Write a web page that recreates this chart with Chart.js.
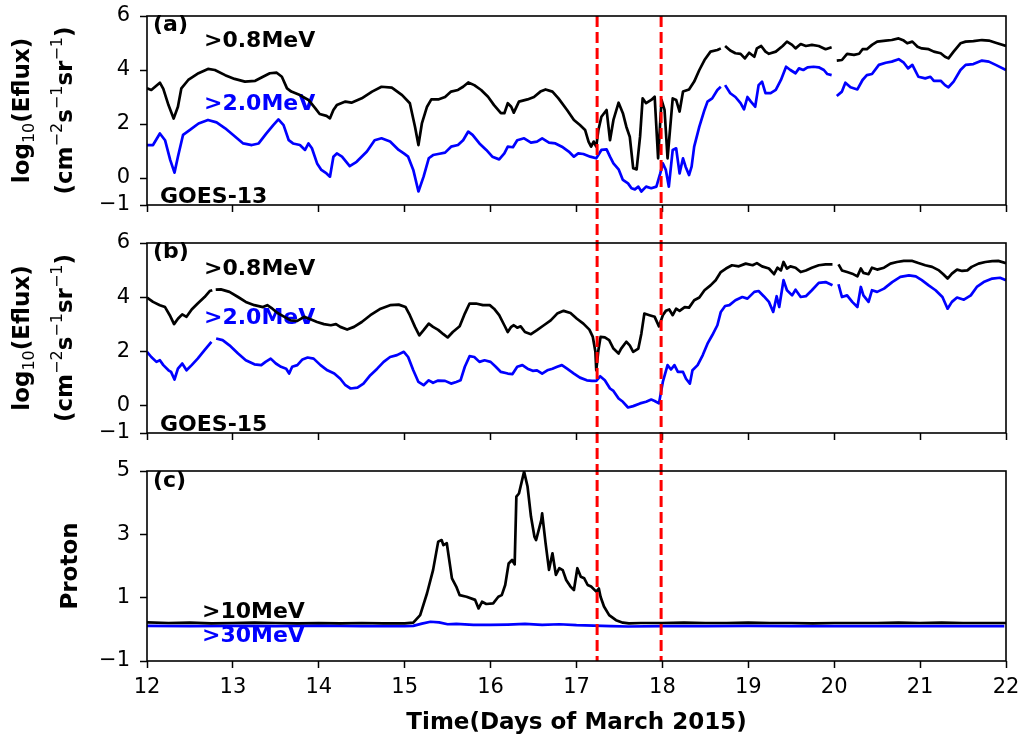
<!DOCTYPE html>
<html>
<head>
<meta charset="utf-8">
<title>GOES electron and proton flux, March 2015</title>
<script src="https://cdn.jsdelivr.net/npm/chart.js@4.4.1/dist/chart.umd.min.js"></script>
<style>
  body { margin: 0; background: #fff; }
  #wrap { position: relative; width: 1032px; height: 740px; background: #fff; }
  #wrap canvas { position: absolute; left: 0; }
</style>
</head>
<body>
<div id="wrap">
  <canvas id="panelA" width="1032" height="230" style="top:0px"></canvas>
  <canvas id="panelB" width="1032" height="225" style="top:230px"></canvas>
  <canvas id="panelC" width="1032" height="285" style="top:455px"></canvas>
</div>
<script>
// ---- GOES-13 electron flux, log10 (panel a) ----
const g13Time08 = [12.0, 12.05, 12.15, 12.19, 12.25, 12.31, 12.36, 12.4, 12.48, 12.6, 12.71, 12.79, 12.91, 13.02, 13.14, 13.26, 13.35, 13.43, 13.51, 13.57, 13.63, 13.68, 13.78, 13.88, 13.96, 14.01, 14.09, 14.13, 14.17, 14.21, 14.31, 14.38, 14.5, 14.62, 14.73, 14.85, 14.97, 15.06, 15.12, 15.16, 15.2, 15.26, 15.31, 15.39, 15.47, 15.54, 15.62, 15.68, 15.74, 15.81, 15.89, 15.97, 16.04, 16.12, 16.16, 16.2, 16.24, 16.27, 16.33, 16.43, 16.505, 16.58, 16.64, 16.72, 16.79, 16.89, 16.97, 17.04, 17.1, 17.14, 17.17, 17.2, 17.23, 17.255, 17.29, 17.35, 17.39, 17.43, 17.49, 17.54, 17.58, 17.62, 17.66, 17.7, 17.74, 17.77, 17.81, 17.87, 17.91, 17.95, 17.99, 18.025, 18.06, 18.12, 18.16, 18.2, 18.24, 18.31, 18.37, 18.43, 18.49, 18.56, 18.64, 18.68, 18.705, 18.73, 18.79, 18.85, 18.91, 18.96, 19.01, 19.07, 19.1, 19.15, 19.2, 19.24, 19.32, 19.4, 19.45, 19.51, 19.55, 19.61, 19.67, 19.74, 19.82, 19.9, 19.97, 20.0, 20.03, 20.09, 20.15, 20.23, 20.29, 20.33, 20.38, 20.44, 20.5, 20.6, 20.67, 20.75, 20.81, 20.85, 20.91, 20.97, 21.02, 21.1, 21.16, 21.24, 21.29, 21.33, 21.39, 21.47, 21.53, 21.62, 21.72, 21.8, 21.88, 22.0];
const g13Flux08 = [3.32, 3.26, 3.53, 3.3, 2.7, 2.2, 2.64, 3.32, 3.63, 3.88, 4.04, 4.0, 3.81, 3.67, 3.57, 3.6, 3.75, 3.88, 3.9, 3.75, 3.32, 3.2, 3.07, 2.89, 2.58, 2.37, 2.3, 2.21, 2.52, 2.7, 2.83, 2.79, 2.95, 3.2, 3.38, 3.35, 3.07, 2.77, 1.9, 1.22, 2.02, 2.64, 2.91, 2.91, 3.0, 3.2, 3.26, 3.38, 3.54, 3.44, 3.26, 3.01, 2.7, 2.4, 2.4, 2.77, 2.64, 2.42, 2.83, 2.91, 3.0, 3.2, 3.28, 3.2, 2.95, 2.52, 2.15, 1.96, 1.78, 1.35, 1.16, 1.35, 1.16, 1.78, 2.27, 2.52, 1.4, 2.15, 2.79, 2.4, 1.9, 1.53, 0.36, 0.32, 1.53, 2.95, 2.77, 2.89, 3.01, 0.73, 2.89, 2.52, 0.73, 2.95, 2.89, 2.46, 3.2, 3.28, 3.57, 4.0, 4.37, 4.68, 4.74, 4.8, null, 4.89, 4.72, 4.62, 4.6, 4.43, 4.64, 4.49, 4.8, 4.89, 4.68, 4.6, 4.68, 4.89, 5.05, 4.93, 4.8, 4.96, 4.89, 4.93, 4.89, 4.77, 4.84, null, 4.35, 4.37, 4.6, 4.56, 4.6, 4.77, 4.77, 4.93, 5.05, 5.09, 5.11, 5.17, 5.09, 4.99, 5.05, 4.86, 4.8, 4.77, 4.68, 4.62, 4.49, 4.43, 4.68, 4.99, 5.05, 5.07, 5.11, 5.09, 5.01, 4.89];

const g13Time20 = [12.0, 12.07, 12.15, 12.21, 12.27, 12.32, 12.36, 12.42, 12.5, 12.6, 12.71, 12.81, 12.91, 13.0, 13.12, 13.22, 13.3, 13.39, 13.47, 13.53, 13.59, 13.65, 13.7, 13.78, 13.84, 13.88, 13.92, 13.98, 14.03, 14.09, 14.13, 14.17, 14.21, 14.27, 14.36, 14.44, 14.56, 14.65, 14.73, 14.83, 14.93, 14.99, 15.04, 15.1, 15.16, 15.22, 15.28, 15.33, 15.39, 15.47, 15.54, 15.62, 15.68, 15.74, 15.79, 15.87, 15.95, 16.02, 16.1, 16.16, 16.2, 16.26, 16.31, 16.39, 16.47, 16.54, 16.6, 16.68, 16.755, 16.83, 16.91, 16.97, 17.02, 17.08, 17.16, 17.23, 17.29, 17.35, 17.39, 17.43, 17.49, 17.54, 17.6, 17.64, 17.68, 17.72, 17.755, 17.81, 17.87, 17.93, 17.975, 18.005, 18.04, 18.075, 18.12, 18.16, 18.2, 18.24, 18.27, 18.31, 18.34, 18.37, 18.43, 18.49, 18.525, 18.58, 18.64, 18.68, 18.705, 18.73, 18.79, 18.85, 18.91, 18.95, 18.99, 19.03, 19.08, 19.12, 19.16, 19.2, 19.26, 19.32, 19.38, 19.44, 19.49, 19.55, 19.59, 19.64, 19.69, 19.76, 19.82, 19.88, 19.92, 19.97, 20.0, 20.03, 20.09, 20.13, 20.19, 20.27, 20.33, 20.38, 20.44, 20.52, 20.6, 20.67, 20.75, 20.81, 20.86, 20.91, 20.98, 21.06, 21.12, 21.16, 21.24, 21.29, 21.33, 21.39, 21.47, 21.53, 21.62, 21.72, 21.8, 21.88, 22.0];
const g13Flux20 = [1.22, 1.22, 1.65, 1.4, 0.67, 0.2, 0.79, 1.6, 1.78, 2.02, 2.15, 2.06, 1.84, 1.6, 1.28, 1.22, 1.28, 1.65, 1.96, 2.17, 1.96, 1.4, 1.28, 1.22, 1.04, 1.28, 1.1, 0.54, 0.3, 0.17, 0.05, 0.79, 0.91, 0.79, 0.44, 0.6, 0.98, 1.4, 1.47, 1.35, 1.04, 0.91, 0.79, 0.3, -0.5, 0.05, 0.73, 0.85, 0.89, 0.94, 1.16, 1.22, 1.4, 1.72, 1.6, 1.28, 1.04, 0.79, 0.69, 0.91, 1.16, 1.14, 1.4, 1.47, 1.31, 1.35, 1.47, 1.31, 1.28, 1.16, 0.98, 0.79, 0.91, 0.89, 0.79, 0.73, 1.04, 1.06, 0.79, 0.54, 0.32, -0.07, -0.2, -0.38, -0.42, -0.32, -0.5, -0.32, -0.38, -0.32, 0.17, 0.54, 0.3, -0.32, 1.04, 1.1, 0.17, 0.73, 0.42, 0.11, 0.42, 1.16, 1.9, 2.52, 2.83, 2.95, 3.26, 3.38, null, 3.44, 3.14, 3.0, 2.77, 2.54, 3.0, 2.83, 2.64, 3.44, 3.57, 3.14, 3.14, 3.26, 3.63, 4.12, 4.0, 3.88, 4.06, 4.0, 4.1, 4.12, 4.1, 4.0, 3.85, 3.81, null, 3.04, 3.2, 3.53, 3.36, 3.28, 3.63, 3.81, 3.85, 4.19, 4.27, 4.31, 4.4, 4.27, 4.06, 4.19, 3.75, 3.69, 3.75, 3.6, 3.6, 3.44, 3.36, 3.57, 4.0, 4.19, 4.22, 4.35, 4.31, 4.19, 4.0];

// ---- GOES-15 electron flux, log10 (panel b) ----
const g15Time08 = [12.0, 12.07, 12.15, 12.21, 12.265, 12.315, 12.36, 12.41, 12.46, 12.52, 12.59, 12.67, 12.73, 12.76, 12.78, 12.8, 12.86, 12.96, 13.06, 13.15, 13.25, 13.35, 13.4, 13.46, 13.52, 13.6, 13.67, 13.75, 13.83, 13.91, 13.98, 14.06, 14.14, 14.2, 14.25, 14.33, 14.41, 14.5, 14.6, 14.72, 14.83, 14.93, 15.01, 15.06, 15.12, 15.17, 15.22, 15.28, 15.33, 15.39, 15.45, 15.5, 15.56, 15.64, 15.7, 15.755, 15.83, 15.91, 15.99, 16.04, 16.1, 16.16, 16.2, 16.24, 16.27, 16.31, 16.35, 16.4, 16.47, 16.54, 16.62, 16.7, 16.775, 16.85, 16.93, 17.005, 17.08, 17.15, 17.19, 17.22, 17.23, 17.255, 17.28, 17.33, 17.38, 17.43, 17.49, 17.52, 17.58, 17.62, 17.66, 17.72, 17.755, 17.79, 17.85, 17.91, 17.96, 18.005, 18.04, 18.08, 18.12, 18.16, 18.2, 18.26, 18.31, 18.37, 18.43, 18.49, 18.56, 18.62, 18.68, 18.74, 18.81, 18.89, 18.97, 19.05, 19.1, 19.16, 19.24, 19.3, 19.34, 19.38, 19.41, 19.45, 19.49, 19.55, 19.61, 19.67, 19.74, 19.82, 19.9, 19.98, 20.01, 20.05, 20.09, 20.15, 20.21, 20.27, 20.31, 20.34, 20.4, 20.44, 20.5, 20.58, 20.655, 20.73, 20.81, 20.91, 20.98, 21.06, 21.14, 21.22, 21.27, 21.32, 21.37, 21.43, 21.49, 21.55, 21.6, 21.68, 21.76, 21.84, 21.91, 22.0];
const g15Flux08 = [3.99, 3.83, 3.71, 3.64, 3.34, 3.01, 3.21, 3.37, 3.28, 3.55, 3.77, 4.01, 4.23, 4.26, null, 4.28, 4.29, 4.2, 4.01, 3.83, 3.71, 3.64, 3.71, 3.58, 3.42, 3.28, 3.15, 3.13, 3.28, 3.18, 3.09, 3.01, 2.97, 3.01, 2.91, 2.81, 2.91, 3.09, 3.34, 3.58, 3.71, 3.73, 3.64, 3.34, 2.91, 2.6, 2.79, 3.03, 2.91, 2.8, 2.64, 2.52, 2.72, 2.93, 3.4, 3.77, 3.77, 3.71, 3.71, 3.58, 3.34, 2.97, 2.72, 2.91, 2.97, 2.88, 2.93, 2.72, 2.64, 2.79, 2.97, 3.15, 3.4, 3.5, 3.42, 3.21, 3.03, 2.81, 2.54, 1.99, 1.31, 2.05, 2.54, 2.52, 2.42, 2.11, 1.93, 2.11, 2.36, 2.23, 1.99, 2.11, 2.66, 3.4, 3.34, 3.28, 2.93, 3.34, 3.5, 3.55, 3.34, 3.58, 3.5, 3.64, 3.62, 3.89, 3.99, 4.26, 4.44, 4.63, 4.93, 5.06, 5.18, 5.14, 5.24, 5.18, 5.26, 5.14, 5.06, 4.85, 5.09, 4.99, 5.3, 5.06, 5.14, 5.09, 4.93, 4.99, 5.09, 5.18, 5.21, 5.21, null, 5.21, 4.99, 4.93, 4.87, 4.77, 5.06, 4.9, 4.85, 5.09, 5.02, 5.09, 5.24, 5.3, 5.34, 5.34, 5.26, 5.18, 5.12, 4.99, 4.85, 4.69, 4.87, 5.02, 4.97, 4.99, 5.12, 5.24, 5.3, 5.33, 5.34, 5.26];

const g15Time20 = [12.0, 12.05, 12.11, 12.15, 12.19, 12.25, 12.28, 12.32, 12.36, 12.41, 12.46, 12.52, 12.59, 12.67, 12.75, 12.78, 12.805, 12.88, 12.96, 13.06, 13.15, 13.25, 13.33, 13.38, 13.44, 13.5, 13.56, 13.62, 13.655, 13.69, 13.75, 13.81, 13.87, 13.94, 14.02, 14.1, 14.18, 14.25, 14.31, 14.37, 14.45, 14.52, 14.6, 14.68, 14.755, 14.83, 14.91, 14.99, 15.04, 15.1, 15.16, 15.22, 15.28, 15.33, 15.39, 15.47, 15.54, 15.6, 15.65, 15.7, 15.755, 15.81, 15.87, 15.93, 16.0, 16.06, 16.12, 16.2, 16.255, 16.31, 16.37, 16.43, 16.49, 16.54, 16.6, 16.66, 16.72, 16.775, 16.83, 16.89, 16.97, 17.04, 17.12, 17.18, 17.23, 17.275, 17.33, 17.39, 17.43, 17.49, 17.54, 17.6, 17.66, 17.74, 17.81, 17.87, 17.91, 17.96, 18.005, 18.06, 18.1, 18.14, 18.18, 18.24, 18.275, 18.32, 18.35, 18.41, 18.47, 18.525, 18.58, 18.64, 18.68, 18.73, 18.78, 18.85, 18.93, 18.99, 19.07, 19.12, 19.18, 19.24, 19.29, 19.33, 19.36, 19.41, 19.45, 19.51, 19.55, 19.61, 19.67, 19.74, 19.82, 19.9, 19.98, 20.01, 20.05, 20.09, 20.15, 20.21, 20.27, 20.31, 20.34, 20.4, 20.44, 20.5, 20.58, 20.675, 20.77, 20.87, 20.95, 21.02, 21.1, 21.18, 21.26, 21.32, 21.37, 21.43, 21.51, 21.59, 21.66, 21.74, 21.84, 21.93, 22.0];
const g15Flux20 = [1.99, 1.8, 1.62, 1.68, 1.5, 1.31, 1.25, 0.97, 1.37, 1.56, 1.31, 1.5, 1.74, 2.05, 2.36, null, 2.48, 2.42, 2.23, 1.93, 1.68, 1.53, 1.5, 1.62, 1.74, 1.56, 1.44, 1.37, 1.19, 1.44, 1.5, 1.71, 1.78, 1.74, 1.5, 1.31, 1.19, 1.0, 0.76, 0.64, 0.67, 0.82, 1.13, 1.37, 1.62, 1.8, 1.87, 1.99, 1.8, 1.31, 0.88, 0.76, 0.94, 0.85, 0.93, 0.92, 0.82, 0.88, 0.94, 1.44, 1.83, 1.8, 1.62, 1.68, 1.62, 1.44, 1.25, 1.19, 1.17, 1.44, 1.5, 1.37, 1.29, 1.31, 1.19, 1.31, 1.37, 1.44, 1.5, 1.37, 1.19, 1.04, 0.94, 0.92, 0.92, 1.09, 0.94, 0.64, 0.55, 0.27, 0.15, -0.06, -0.01, 0.09, 0.15, 0.23, 0.18, 0.09, 0.88, 1.5, 1.34, 1.5, 1.25, 1.25, 1.0, 0.82, 1.31, 1.5, 1.87, 2.29, 2.6, 2.97, 3.46, 3.68, 3.71, 3.89, 4.01, 3.95, 4.2, 4.23, 4.04, 3.83, 3.46, 4.04, 3.64, 4.63, 4.26, 4.07, 4.28, 4.01, 4.04, 4.26, 4.53, 4.56, 4.44, null, 4.48, 4.01, 4.07, 3.83, 3.64, 4.38, 4.07, 3.83, 4.26, 4.2, 4.32, 4.56, 4.75, 4.81, 4.77, 4.63, 4.44, 4.26, 4.01, 3.58, 3.83, 3.99, 3.91, 4.07, 4.38, 4.56, 4.69, 4.72, 4.63];

// ---- proton flux (panel c) ----
const protonTime10 = [12.0, 12.25, 12.5, 12.75, 13.0, 13.25, 13.5, 13.75, 14.0, 14.25, 14.5, 14.75, 15.0, 15.1, 15.18, 15.26, 15.33, 15.39, 15.43, 15.45, 15.49, 15.55, 15.6, 15.64, 15.72, 15.82, 15.86, 15.9, 15.95, 16.03, 16.09, 16.13, 16.17, 16.21, 16.25, 16.28, 16.3, 16.33, 16.39, 16.43, 16.47, 16.51, 16.53, 16.59, 16.6, 16.64, 16.68, 16.72, 16.76, 16.8, 16.84, 16.88, 16.93, 16.97, 17.01, 17.05, 17.09, 17.13, 17.17, 17.23, 17.26, 17.28, 17.32, 17.38, 17.46, 17.54, 17.61, 17.75, 18.0, 18.25, 18.5, 18.75, 19.0, 19.25, 19.5, 19.75, 20.0, 20.25, 20.5, 20.75, 21.0, 21.25, 21.5, 21.75, 22.0];
const protonFlux10 = [0.22, 0.2, 0.21, 0.19, 0.2, 0.21, 0.2, 0.19, 0.2, 0.19, 0.2, 0.19, 0.19, 0.21, 0.45, 1.14, 1.87, 2.77, 2.82, 2.66, 2.72, 1.61, 1.35, 1.08, 1.03, 0.93, 0.66, 0.87, 0.8, 0.82, 1.03, 1.08, 1.4, 2.08, 2.19, 2.05, 4.19, 4.29, 4.98, 4.51, 3.56, 2.93, 2.82, 3.45, 3.66, 2.72, 1.88, 2.4, 1.72, 1.93, 1.87, 1.56, 1.35, 1.24, 1.93, 1.66, 1.61, 1.4, 1.35, 1.19, 1.29, 1.03, 0.72, 0.45, 0.29, 0.21, 0.19, 0.2, 0.2, 0.21, 0.2, 0.2, 0.21, 0.2, 0.2, 0.19, 0.2, 0.2, 0.2, 0.21, 0.2, 0.21, 0.2, 0.2, 0.2];

const protonTime30 = [12.0, 12.5, 13.0, 13.5, 14.0, 14.5, 15.0, 15.1, 15.2, 15.3, 15.4, 15.5, 15.6, 15.8, 16.0, 16.2, 16.4, 16.6, 16.8, 17.0, 17.2, 17.4, 17.6, 18.0, 18.5, 19.0, 19.5, 20.0, 20.5, 21.0, 21.5, 21.98];
const protonFlux30 = [0.11, 0.1, 0.11, 0.1, 0.12, 0.1, 0.1, 0.11, 0.18, 0.24, 0.22, 0.16, 0.17, 0.14, 0.14, 0.15, 0.17, 0.14, 0.16, 0.13, 0.12, 0.1, 0.09, 0.1, 0.1, 0.11, 0.1, 0.1, 0.1, 0.1, 0.1, 0.1];

// axis ticks and event markers
const dayTicks = [12, 13, 14, 15, 16, 17, 18, 19, 20, 21, 22];
const fluxTicks = [-1, 0, 2, 4, 6];
const protonTicks = [-1, 1, 3, 5];
const markerDays = [17.24, 17.985];

const FONT = 'DejaVu Sans';
Chart.defaults.font.family = FONT;
Chart.defaults.color = '#000';

function buildPoints(times, values) {
  return times.map((t, i) => ({ x: t, y: values[i] }));
}

function tickText(v) {
  return v < 0 ? '\u2212' + Math.abs(v) : String(v);
}

// rotated text with sub/superscripts, baseX = page x of the baseline
function drawRotatedRich(ctx, baseX, cy, parts) {
  ctx.save();
  ctx.translate(baseX, cy);
  ctx.rotate(-Math.PI / 2);
  ctx.textBaseline = 'alphabetic';
  ctx.textAlign = 'left';
  ctx.fillStyle = '#000';
  let total = 0;
  parts.forEach(p => {
    ctx.font = (p.bold ? 'bold ' : '') + p.size + 'px "' + FONT + '"';
    p.w = ctx.measureText(p.text).width;
    total += p.w;
  });
  let x = -total / 2;
  parts.forEach(p => {
    ctx.font = (p.bold ? 'bold ' : '') + p.size + 'px "' + FONT + '"';
    ctx.fillText(p.text, x, p.shift || 0);
    x += p.w;
  });
  ctx.restore();
}

const fluxTitle1 = [
  { text: 'log', bold: true, size: 23 },
  { text: '10', size: 16, shift: 5 },
  { text: '(Eflux)', bold: true, size: 23 }
];
const fluxTitle2 = [
  { text: '(cm', bold: true, size: 23 },
  { text: '\u22122', size: 16, shift: -10 },
  { text: 's', bold: true, size: 23 },
  { text: '\u22121', size: 16, shift: -10 },
  { text: 'sr', bold: true, size: 23 },
  { text: '\u22121', size: 16, shift: -10 },
  { text: ')', bold: true, size: 23 }
];

// annotations, red event lines, frame and axis titles
const panelDecor = {
  id: 'panelDecor',
  beforeDatasetsDraw(chart, args, opts) {
    const { ctx, chartArea: a } = chart;
    ctx.save();
    ctx.textBaseline = 'alphabetic';
    ctx.textAlign = 'left';
    opts.labels.forEach(l => {
      ctx.font = 'bold 22px "' + FONT + '"';
      ctx.fillStyle = l.color;
      ctx.fillText(l.text, a.left + l.dx, a.top + l.dy);
    });
    ctx.restore();
  },
  afterDatasetsDraw(chart, args, opts) {
    const { ctx, chartArea: a } = chart;
    const xs = chart.scales.x;
    const y0 = opts.lineFromTop ? a.top : 0;
    const y1 = opts.lineToBottom ? a.bottom : chart.height;
    ctx.save();
    ctx.strokeStyle = '#ff0000';
    ctx.lineWidth = 3;
    ctx.setLineDash([11, 5]);
    ctx.lineDashOffset = opts.dashOffset;
    markerDays.forEach(d => {
      const px = xs.getPixelForValue(d);
      ctx.beginPath();
      ctx.moveTo(px, y0);
      ctx.lineTo(px, y1);
      ctx.stroke();
    });
    ctx.restore();
  },
  afterDraw(chart, args, opts) {
    const { ctx, chartArea: a } = chart;
    ctx.save();
    ctx.strokeStyle = '#000';
    ctx.lineWidth = 1.6;
    ctx.strokeRect(a.left, a.top, a.right - a.left, a.bottom - a.top);
    ctx.restore();
    const cy = (a.top + a.bottom) / 2;
    if (opts.fluxTitle) {
      drawRotatedRich(ctx, 29, cy, fluxTitle1);
      drawRotatedRich(ctx, 72, cy, fluxTitle2);
    } else {
      drawRotatedRich(ctx, 77, cy, [{ text: 'Proton', bold: true, size: 23 }]);
      ctx.save();
      ctx.font = 'bold 23px "' + FONT + '"';
      ctx.fillStyle = '#000';
      ctx.textAlign = 'center';
      ctx.textBaseline = 'alphabetic';
      ctx.fillText('Time(Days of March 2015)', (a.left + a.right) / 2, a.bottom + 68);
      ctx.restore();
    }
  }
};

function makePanel(id, cfg) {
  const tickGrid = {
    display: true, drawOnChartArea: false, drawTicks: true,
    tickLength: 7, tickWidth: 1.5, tickColor: '#000'
  };
  return new Chart(document.getElementById(id), {
    type: 'line',
    data: {
      datasets: cfg.series.map(s => ({
        data: buildPoints(s.t, s.v),
        borderColor: s.color,
        borderWidth: 2.7,
        borderJoinStyle: 'round',
        pointRadius: 0,
        tension: 0,
        fill: false,
        spanGaps: false
      }))
    },
    options: {
      responsive: false,
      animation: false,
      events: [],
      layout: { padding: { top: cfg.padTop, right: 26, bottom: 0, left: 0 } },
      plugins: {
        legend: { display: false },
        tooltip: { enabled: false },
        panelDecor: cfg.decor
      },
      scales: {
        x: {
          type: 'linear', min: 12, max: 22,
          afterBuildTicks: s => { s.ticks = dayTicks.map(v => ({ value: v })); },
          afterFit: s => {
            s.height = cfg.xHeight;
            s.paddingLeft = 0;
            s.paddingRight = 0;
          },
          ticks: {
            display: cfg.showDays, autoSkip: false, maxRotation: 0,
            padding: 7, color: '#000', font: { size: 21 }
          },
          grid: tickGrid,
          border: { display: false }
        },
        y: {
          type: 'linear', min: cfg.yTicks[0], max: cfg.yTicks[cfg.yTicks.length - 1],
          afterBuildTicks: s => { s.ticks = cfg.yTicks.map(v => ({ value: v })); },
          afterFit: s => {
            s.width = 147;
            // keep the plot box where the layout padding puts it
            s.paddingTop = 0;
            s.paddingBottom = 0;
          },
          ticks: { padding: 10, color: '#000', font: { size: 21 }, callback: v => tickText(v) },
          grid: tickGrid,
          border: { display: false }
        }
      }
    },
    plugins: [panelDecor]
  });
}

makePanel('panelA', {
  padTop: 16, xHeight: 25, showDays: false, yTicks: fluxTicks,
  series: [
    { t: g13Time08, v: g13Flux08, color: '#000000' },
    { t: g13Time20, v: g13Flux20, color: '#0000ff' }
  ],
  decor: {
    fluxTitle: true, lineFromTop: true, lineToBottom: false, dashOffset: 0,
    labels: [
      { text: '(a)', color: '#000', dx: 6, dy: 15 },
      { text: '>0.8MeV', color: '#000', dx: 57, dy: 31 },
      { text: '>2.0MeV', color: '#0000ff', dx: 57, dy: 94 },
      { text: 'GOES-13', color: '#000', dx: 13, dy: 187 }
    ]
  }
});

makePanel('panelB', {
  padTop: 13, xHeight: 22, showDays: false, yTicks: fluxTicks,
  series: [
    { t: g15Time08, v: g15Flux08, color: '#000000' },
    { t: g15Time20, v: g15Flux20, color: '#0000ff' }
  ],
  decor: {
    fluxTitle: true, lineFromTop: false, lineToBottom: false, dashOffset: 214,
    labels: [
      { text: '(b)', color: '#000', dx: 6, dy: 15 },
      { text: '>0.8MeV', color: '#000', dx: 57, dy: 32 },
      { text: '>2.0MeV', color: '#0000ff', dx: 57, dy: 81 },
      { text: 'GOES-15', color: '#000', dx: 13, dy: 188 }
    ]
  }
});

makePanel('panelC', {
  padTop: 16, xHeight: 79, showDays: true, yTicks: protonTicks,
  series: [
    { t: protonTime10, v: protonFlux10, color: '#000000' },
    { t: protonTime30, v: protonFlux30, color: '#0000ff' }
  ],
  decor: {
    fluxTitle: false, lineFromTop: false, lineToBottom: true, dashOffset: 439,
    labels: [
      { text: '(c)', color: '#000', dx: 6, dy: 16 },
      { text: '>10MeV', color: '#000', dx: 55, dy: 147 },
      { text: '>30MeV', color: '#0000ff', dx: 55, dy: 171 }
    ]
  }
});
</script>
</body>
</html>
